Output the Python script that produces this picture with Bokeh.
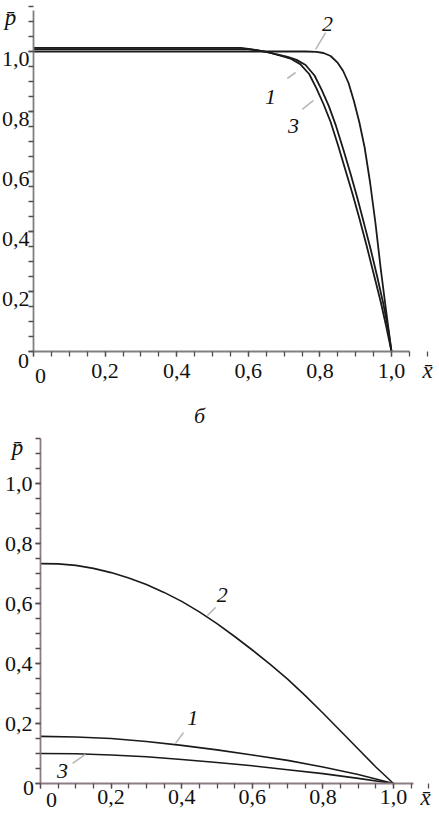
from bokeh.plotting import figure
from bokeh.layouts import column
from bokeh.models import FixedTicker, CustomJSTickFormatter, Range1d
from bokeh.core.properties import value
from bokeh.embed import file_html
from bokeh.resources import INLINE

# ---------------- data: top panel (a) ----------------
top_x1 = [0.00, 0.58, 0.60, 0.63, 0.66, 0.69, 0.72, 0.745, 0.77, 0.79, 0.81, 0.83, 0.85, 0.87,
          0.89, 0.91, 0.93, 0.95, 0.97, 0.985, 1.00]
top_p1 = [1.012, 1.012, 1.009, 1.003, 0.996, 0.986, 0.975, 0.958, 0.925, 0.878, 0.825, 0.765,
          0.690, 0.610, 0.530, 0.445, 0.355, 0.260, 0.165, 0.085, 0.000]

top_x2 = [0.00, 0.76, 0.79, 0.81, 0.83, 0.85, 0.865, 0.88, 0.895, 0.91, 0.925, 0.94, 0.955,
          0.97, 0.985, 1.00]
top_p2 = [1.000, 1.000, 0.999, 0.995, 0.985, 0.962, 0.935, 0.895, 0.835, 0.765, 0.680, 0.565,
          0.430, 0.275, 0.135, 0.000]

top_x3 = [0.00, 0.60, 0.62, 0.65, 0.68, 0.71, 0.735, 0.76, 0.785, 0.805, 0.825, 0.845, 0.865,
          0.885, 0.905, 0.923, 0.942, 0.96, 0.977, 0.99, 1.00]
top_p3 = [1.008, 1.008, 1.005, 0.999, 0.990, 0.982, 0.972, 0.955, 0.920, 0.872, 0.818, 0.752,
          0.675, 0.595, 0.510, 0.428, 0.340, 0.250, 0.160, 0.080, 0.000]

# ---------------- data: bottom panel (б) ----------------
bot_x2 = [0.0, 0.05, 0.1, 0.15, 0.2, 0.25, 0.3, 0.35, 0.4, 0.45, 0.5, 0.55, 0.6, 0.65, 0.7,
          0.75, 0.8, 0.85, 0.9, 0.95, 1.0]
bot_p2 = [0.733, 0.732, 0.727, 0.717, 0.703, 0.685, 0.663, 0.637, 0.607, 0.572, 0.533, 0.490,
          0.445, 0.398, 0.348, 0.293, 0.235, 0.175, 0.115, 0.055, 0.000]
bot_x = [0.0, 0.1, 0.2, 0.3, 0.4, 0.5, 0.6, 0.7, 0.8, 0.9, 1.0]
bot_p1 = [0.157, 0.155, 0.150, 0.140, 0.127, 0.112, 0.095, 0.077, 0.055, 0.030, 0.000]
bot_p3 = [0.100, 0.099, 0.095, 0.089, 0.080, 0.070, 0.059, 0.046, 0.033, 0.017, 0.000]

# ---------------- ticks ----------------
major_ticks = [0, 0.2, 0.4, 0.6, 0.8, 1.0]
minor_ticks = [round(0.05 * i, 2) for i in range(24)]
top_ytick_vals = [0.2, 0.4, 0.6, 0.8, 1.0]
top_ytick_labels = ["0,2", "0,4", "0,6", "0,8", "1,0"]

# curve-number labels and leader lines (data coordinates)
top_lab_text = ["2", "1", "3"]
top_lab_x = [0.821, 0.662, 0.726]
top_lab_y = [1.093, 0.847, 0.753]
top_lead_x0 = [0.816, 0.709, 0.751]
top_lead_y0 = [1.063, 0.910, 0.807]
top_lead_x1 = [0.788, 0.732, 0.782]
top_lead_y1 = [1.007, 0.930, 0.837]

bot_lab_text = ["2", "1", "3"]
bot_lab_x = [0.515, 0.431, 0.062]
bot_lab_y = [0.627, 0.217, 0.043]
bot_lead_x0 = [0.496, 0.405, 0.091]
bot_lead_y0 = [0.587, 0.170, 0.067]
bot_lead_x1 = [0.473, 0.382, 0.127]
bot_lead_y1 = [0.560, 0.133, 0.097]

FONT = "Liberation Serif"
LABEL_SIZE = "22px"
CURVE = "#1a1a1a"
LEAD = "#b8b8b8"
W = 439

FMT = "return tick == 0 ? '' : tick.toFixed(1).replace('.', ',');"
BLANK = "return '';"


def make_fig(height, x0_px, y0_px, px_x, px_y, x_end, y_end, axis_color, tick_color,
             x_standoff, y_standoff, y_code):
    # frame covers the whole canvas; axes sit at x=0 / y=0 via fixed_location
    x_start = -x0_px / px_x
    x_stop = (W - x0_px) / px_x
    y_start = -(height - y0_px) / px_y
    y_stop = y0_px / px_y
    p = figure(width=W, height=height,
               x_range=Range1d(x_start, x_stop), y_range=Range1d(y_start, y_stop),
               output_backend="svg", toolbar_location=None,
               min_border=0)
    p.xgrid.visible = False
    p.ygrid.visible = False
    p.outline_line_color = None
    p.background_fill_color = "white"
    p.border_fill_color = "white"
    p.xaxis.fixed_location = 0
    p.yaxis.fixed_location = 0
    p.xaxis.bounds = (0, x_end)
    p.yaxis.bounds = (0, y_end)
    for ax, so, code in ((p.xaxis[0], x_standoff, FMT), (p.yaxis[0], y_standoff, y_code)):
        ax.ticker = FixedTicker(ticks=major_ticks, minor_ticks=minor_ticks)
        ax.formatter = CustomJSTickFormatter(code=code)
        ax.axis_line_color = axis_color
        ax.axis_line_width = 1.8
        ax.major_tick_line_color = tick_color
        ax.minor_tick_line_color = tick_color
        ax.major_tick_line_width = 1.3
        ax.minor_tick_line_width = 1.3
        ax.major_tick_in = 0
        ax.minor_tick_in = 0
        ax.major_tick_out = 5
        ax.minor_tick_out = 5
        ax.major_label_standoff = so
        ax.major_label_text_font = FONT
        ax.major_label_text_font_size = LABEL_SIZE
        ax.major_label_text_color = "#111111"
    return p


def add_texts(p, xs, ys, texts, size=LABEL_SIZE, style="normal", align="center"):
    p.text(xs, ys, text=texts, text_font=value(FONT), text_font_size=size,
           text_font_style=style, text_color="#111111",
           text_align=align, text_baseline="middle")


# ---------------- top figure (canvas rows 0..430) ----------------
T_PX, T_PY = 358.0, 300.0
T_X0, T_Y0 = 33, 351
top_xend = (409 - T_X0) / T_PX
top_yend = (T_Y0 - 10) / T_PY
pt = make_fig(430, T_X0, T_Y0, T_PX, T_PY, top_xend, top_yend, "#808080", "#505050", 7, 1, BLANK)

pt.line(top_x1, top_p1, color=CURVE, line_width=1.8)
pt.line(top_x3, top_p3, color=CURVE, line_width=1.8)
pt.line(top_x2, top_p2, color=CURVE, line_width=1.8)
pt.segment(top_lead_x0, top_lead_y0, top_lead_x1, top_lead_y1, color=LEAD, line_width=1.6)
add_texts(pt, top_lab_x, top_lab_y, top_lab_text, style="italic")
# y tick labels of the top panel sit a little below their ticks, as in the original
add_texts(pt, [(29 - T_X0) / T_PX] * len(top_ytick_vals),
          [v - 7 / T_PY for v in top_ytick_vals], top_ytick_labels, align="right")
add_texts(pt, [(10 - T_X0) / T_PX, (427 - T_X0) / T_PX], [(T_Y0 - 17) / T_PY, (T_Y0 - 370) / T_PY],
          ["p\u0304", "x\u0304"], size="23px", style="italic")
add_texts(pt, [(23 - T_X0) / T_PX, (40 - T_X0) / T_PX], [(T_Y0 - 360) / T_PY, (T_Y0 - 375) / T_PY],
          ["0", "0"])
add_texts(pt, [(199 - T_X0) / T_PX], [(T_Y0 - 415) / T_PY], ["\u0431"], style="italic")

# ---------------- bottom figure (canvas rows 430..816) ----------------
B_TOP = 430
B_PX, B_PY = 353.0, 300.0
B_X0, B_Y0 = 40, 783 - B_TOP
bot_xend = (413 - B_X0) / B_PX
bot_yend = (783 - 438) / B_PY
pb = make_fig(816 - B_TOP, B_X0, B_Y0, B_PX, B_PY, bot_xend, bot_yend, "#8c7c84", "#5a4a52", 1, 3, FMT)

pb.line(bot_x2, bot_p2, color=CURVE, line_width=1.6)
pb.line(bot_x, bot_p1, color=CURVE, line_width=1.6)
pb.line(bot_x, bot_p3, color=CURVE, line_width=1.6)
pb.segment(bot_lead_x0, bot_lead_y0, bot_lead_x1, bot_lead_y1, color=LEAD, line_width=1.6)
add_texts(pb, bot_lab_x, bot_lab_y, bot_lab_text, style="italic")
add_texts(pb, [(17 - B_X0) / B_PX, (425 - B_X0) / B_PX], [(783 - 447) / B_PY, (783 - 797) / B_PY],
          ["p\u0304", "x\u0304"], size="23px", style="italic")
add_texts(pb, [(28 - B_X0) / B_PX, (51 - B_X0) / B_PX], [(783 - 787) / B_PY, (783 - 799) / B_PY],
          ["0", "0"])

layout = column(pt, pb, spacing=0)

open("out.html", "w").write(file_html(layout, INLINE))
